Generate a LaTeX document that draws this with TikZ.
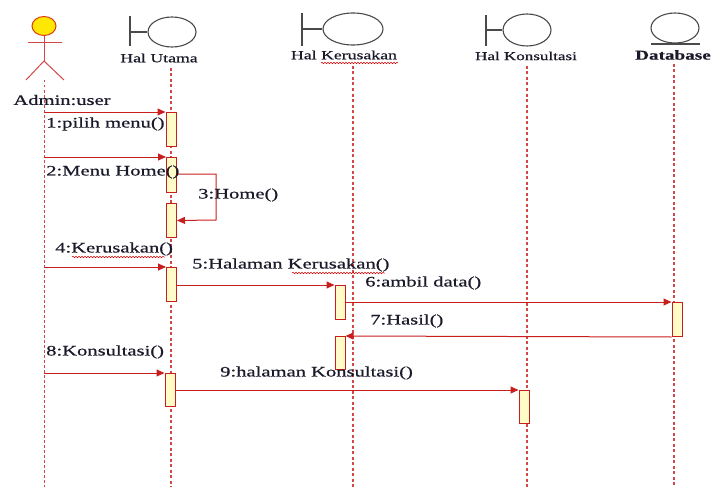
\documentclass[tikz,border=0pt]{standalone}
\usepackage{fontspec}
\setmainfont{Liberation Serif}[FakeBold=0.5]
\usetikzlibrary{arrows.meta,shapes.geometric,decorations.pathmorphing,calc}
\definecolor{lred}{HTML}{D04848}
\definecolor{dred}{HTML}{C81E1E}
\definecolor{actfill}{HTML}{FFFCC8}
\definecolor{symgray}{HTML}{4A4A4A}
\definecolor{txt}{HTML}{1A1A2A}
\newcommand{\widetxt}[1]{\scalebox{1.42}[1]{#1}}
\tikzset{
  lifeline/.style={draw=lred, line width=1.1pt, dash pattern=on 3pt off 2.5pt},
  actbox/.style={draw=dred, fill=actfill, line width=1pt, rectangle, inner sep=0pt, minimum width=10pt, anchor=north},
  msg/.style={draw=dred, line width=1pt, -{Triangle[length=8pt,width=7pt]}},
  lbl/.style={text=txt, font=\fontsize{14.5}{16}\selectfont, inner sep=0pt, anchor=west},
  hdr/.style={text=txt, font=\fontsize{12.5}{14}\selectfont, inner sep=0pt},
  bnd/.style={draw=symgray, line width=1.1pt},
  bcirc/.style={ellipse, draw=symgray, line width=1.1pt, inner sep=0pt},
  squig/.style={draw=red!85!black, line width=0.5pt, decorate, decoration={snake, amplitude=0.8pt, segment length=3pt}}
}
\begin{document}
\begin{tikzpicture}[x=1pt,y=-1pt]
\useasboundingbox (0,0) rectangle (715,487);
% ---- actor
\node[ellipse, draw=dred!70!orange, fill=yellow!90!orange, line width=1pt, minimum width=24pt, minimum height=19pt, inner sep=0pt] (head) at (44,26) {};
\draw[draw=lred, line width=1pt] (head.south) -- (44,61) coordinate (hip);
\draw[draw=lred, line width=1pt] (28,43) -- (62,43);
\draw[draw=lred, line width=1pt] (26,80) -- (hip) -- (64,80);
\node[lbl, anchor=center] (admin) at (62,100) {\widetxt{Admin:user}};
% ---- boundary Hal Utama
\draw[bnd] (130,16) -- (130,46);
\node[bcirc, minimum width=48pt, minimum height=30pt] (huC) at (172,32) {};
\draw[bnd] (130,32) -- (huC.west);
\node[hdr] (hu) at (159,58) {\widetxt{Hal Utama}};
% ---- boundary Hal Kerusakan
\draw[bnd] (302,13) -- (302,46);
\node[bcirc, minimum width=60pt, minimum height=32pt] (hkC) at (353,29) {};
\draw[bnd] (302,29) -- (hkC.west);
\node[hdr] (hk) at (344,55) {\widetxt{Hal Kerusakan}};
% ---- boundary Hal Konsultasi
\draw[bnd] (486,15) -- (486,46);
\node[bcirc, minimum width=48pt, minimum height=32pt] (hcC) at (527,30) {};
\draw[bnd] (486,30) -- (hcC.west);
\node[hdr, font=\fontsize{12}{13}\selectfont] (hc) at (526,56) {\widetxt{Hal Konsultasi}};
% ---- entity Database
\node[bcirc, minimum width=48pt, minimum height=30pt] (dbC) at (675,28) {};
\draw[bnd] (651,44) -- (700,44);
\node[hdr, font=\fontsize{13.5}{15}\selectfont\bfseries] (db) at (673,55) {\widetxt{Database}};
% ---- lifelines
\coordinate (adT) at (44,80);  \coordinate (adB) at (44,487);
\coordinate (huT) at (171,68); \coordinate (huB) at (171,487);
\coordinate (hkT) at (353,66); \coordinate (hkB) at (353,487);
\coordinate (hcT) at (527,66); \coordinate (hcB) at (527,487);
\coordinate (dbT) at (674,64); \coordinate (dbB) at (674,487);
\draw[lifeline, line width=0.9pt, dash pattern=on 2.5pt off 2.5pt] (adT) -- (adB);
\draw[lifeline] (huT) -- (huB);
\draw[lifeline] (hkT) -- (hkB);
\draw[lifeline] (hcT) -- (hcB);
\draw[lifeline] (dbT) -- (dbB);
% ---- activation boxes
\node[actbox, minimum height=34pt] (b1) at (171,112) {};
\node[actbox, minimum height=35pt] (b2) at (171.5,157) {};
\node[actbox, minimum height=34pt] (b3) at (171.5,203) {};
\node[actbox, minimum height=34pt] (b4) at (171.5,267) {};
\node[actbox, minimum height=34pt] (b5) at (340,285) {};
\node[actbox, minimum height=34pt] (b6) at (677,302) {};
\node[actbox, minimum height=33pt] (b7) at (340,336) {};
\node[actbox, minimum height=33pt] (b8) at (170,373) {};
\node[actbox, minimum height=33pt] (b9) at (524,390) {};
% ---- messages
\coordinate (s1) at (adT |- b1.north);
\coordinate (s2) at (adT |- b2.north);
\coordinate (s4) at (adT |- b4.north);
\coordinate (s8) at (adT |- b8.north);
\coordinate (selfR) at (216,220);
\draw[msg] (s1) -- (b1.north west);
\draw[msg] (s2) -- (b2.north west);
\draw[msg] ($(b2.north east)+(0,17)$) -| (selfR) -- (b3.east);
\draw[msg] (s4) -- (b4.north west);
\draw[msg] (b4.east |- b5.north) -- (b5.north west);
\draw[msg] (b5.east |- b6.north) -- (b6.north west);
\draw[msg] (b6.south west) -- (b7.north east);
\draw[msg] (s8) -- (b8.north west);
\draw[msg] (b8.east |- b9.north) -- (b9.north west);
% ---- labels
\node[lbl] (l1) at (46,124) {\widetxt{1:pilih menu()}};
\node[lbl] (l2) at (46,172) {\widetxt{2:Menu Home()}};
\node[lbl] (l3) at (198,195) {\widetxt{3:Home()}};
\node[lbl] (l4) at (55,249) {\widetxt{4:Kerusakan()}};
\node[lbl] (l5) at (192,265) {\widetxt{5:Halaman Kerusakan()}};
\node[lbl] (l6) at (365,283) {\widetxt{6:ambil data()}};
\node[lbl] (l7) at (370,321) {\widetxt{7:Hasil()}};
\node[lbl] (l8) at (46,352) {\widetxt{8:Konsultasi()}};
\node[lbl] (l9) at (220,373) {\widetxt{9:halaman Konsultasi()}};
% ---- spell-check squiggles
\draw[squig] (321,63) -- (398,63);
\draw[squig] (72,257) -- (165,257);
\draw[squig] (292,273) -- (385,273);
\end{tikzpicture}
\end{document}
